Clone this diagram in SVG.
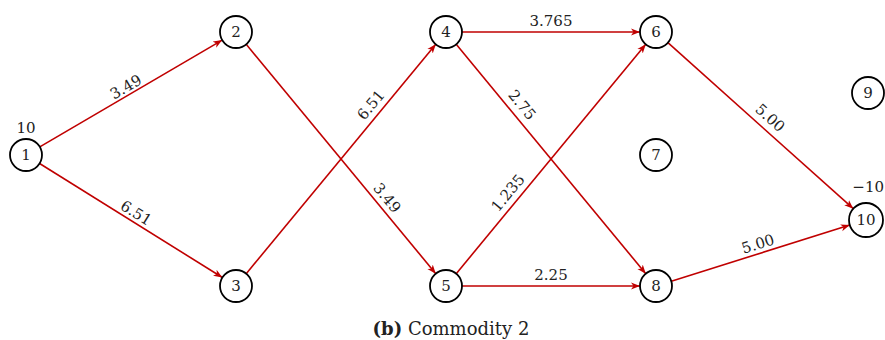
<svg xmlns="http://www.w3.org/2000/svg" width="885" height="340" viewBox="0 0 885 340">
<style>
.n circle{fill:#fff;stroke:#000;stroke-width:1.8}
.n text,.lbl{font-family:'DejaVu Serif','Liberation Serif',serif;font-size:15px;fill:#222;text-anchor:middle;dominant-baseline:central}
.e{stroke:#c00000;stroke-width:1.6;fill:none;marker-end:url(#arr)}
.cap{font-family:'DejaVu Serif','Liberation Serif',serif;font-size:18px;fill:#222;text-anchor:middle}
</style>
<defs>
<marker id="arr" markerUnits="userSpaceOnUse" markerWidth="10" markerHeight="8" refX="9" refY="4" orient="auto">
<path d="M0,0.5 L9,4 L0,7.5 L2.5,4 z" fill="#c00000"/>
</marker>
</defs>
<g id="connectors">
<line class="e" x1="39.8" y1="146.9" x2="222.2" y2="40.1"/>
<line class="e" x1="39.6" y1="163.5" x2="222.4" y2="277.5"/>
<line class="e" x1="246.2" y1="44.3" x2="435.8" y2="273.7"/>
<line class="e" x1="246.2" y1="273.7" x2="435.8" y2="44.3"/>
<line class="e" x1="462" y1="32" x2="640" y2="32"/>
<line class="e" x1="456.2" y1="44.3" x2="645.8" y2="273.7"/>
<line class="e" x1="456.2" y1="273.7" x2="645.8" y2="44.3"/>
<line class="e" x1="462" y1="286" x2="640" y2="286"/>
<line class="e" x1="667.9" y1="42.7" x2="853.3" y2="208.7"/>
<line class="e" x1="671.3" y1="281.2" x2="849.8" y2="225.1"/>
<text class="lbl" transform="translate(126,87) rotate(-30.4)">3.49</text>
<text class="lbl" transform="translate(136,213) rotate(32)">6.51</text>
<text class="lbl" transform="translate(371,105) rotate(-50.4)">6.51</text>
<text class="lbl" transform="translate(387,198) rotate(50.4)">3.49</text>
<text class="lbl" x="551" y="21">3.765</text>
<text class="lbl" transform="translate(522,105) rotate(50.4)">2.75</text>
<text class="lbl" transform="translate(508,193) rotate(-50.4)">1.235</text>
<text class="lbl" x="551" y="275">2.25</text>
<text class="lbl" transform="translate(770,118) rotate(41.8)">5.00</text>
<text class="lbl" transform="translate(758,244) rotate(-17.4)">5.00</text>
</g>
<g id="node1" class="n"><circle cx="26" cy="155" r="16"/><text x="26" y="155">1</text><text x="26" y="128">10</text></g>
<g id="node2" class="n"><circle cx="236" cy="32" r="16"/><text x="236" y="32">2</text></g>
<g id="node3" class="n"><circle cx="236" cy="286" r="16"/><text x="236" y="286">3</text></g>
<g id="node4" class="n"><circle cx="446" cy="32" r="16"/><text x="446" y="32">4</text></g>
<g id="node5" class="n"><circle cx="446" cy="286" r="16"/><text x="446" y="286">5</text></g>
<g id="node6" class="n"><circle cx="656" cy="32" r="16"/><text x="656" y="32">6</text></g>
<g id="node7" class="n"><circle cx="656" cy="155" r="16"/><text x="656" y="155">7</text></g>
<g id="node8" class="n"><circle cx="656" cy="286" r="16"/><text x="656" y="286">8</text></g>
<g id="node9" class="n"><circle cx="868" cy="93" r="16"/><text x="868" y="93">9</text></g>
<g id="node10" class="n"><circle cx="866" cy="220" r="17"/><text x="866" y="220">10</text><text x="884" y="187" style="text-anchor:end">−10</text></g>
<text class="cap" x="451" y="335"><tspan font-weight="bold">(b)</tspan> Commodity 2</text>
</svg>
